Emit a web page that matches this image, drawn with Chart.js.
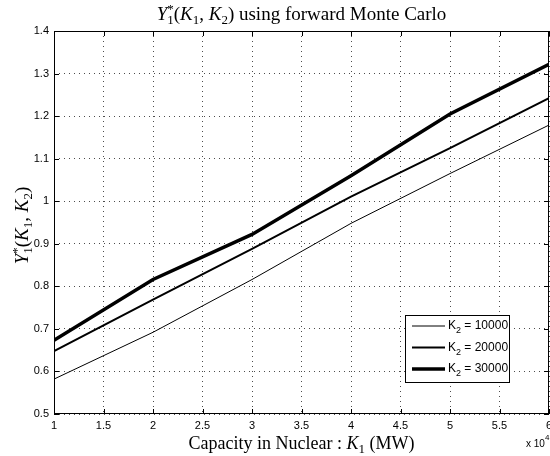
<!DOCTYPE html>
<html>
<head>
<meta charset="utf-8">
<script src="https://cdn.jsdelivr.net/npm/chart.js@4.4.1/dist/chart.umd.min.js"></script>
<style>
  html, body { margin: 0; padding: 0; background: #fff; overflow: hidden; }
  #wrap { width: 560px; height: 456px; }
</style>
</head>
<body>
<div id="wrap"><canvas id="grafico"></canvas></div>
<script>
// dados (K1 em unidades de 10^4 MW)
var k1 = [1, 2, 3, 4, 5, 6];
var y10000 = [0.582, 0.692, 0.816, 0.948, 1.065, 1.179];
var y20000 = [0.648, 0.769, 0.888, 1.011, 1.125, 1.242];
var y30000 = [0.673, 0.816, 0.922, 1.060, 1.205, 1.322];
var nomes = ["10000", "20000", "30000"];
var xTicks = [1, 1.5, 2, 2.5, 3, 3.5, 4, 4.5, 5, 5.5, 6];
var yTicks = [0.5, 0.6, 0.7, 0.8, 0.9, 1, 1.1, 1.2, 1.3, 1.4];

var sans = "'Liberation Sans', Arial, sans-serif";
var serif = "'Liberation Serif', 'DejaVu Serif', serif";

function pontos(ys) {
  return k1.map(function (x, i) { return { x: x, y: ys[i] }; });
}

// desenha texto com italico / subscrito / sobrescrito
function largura(ctx, segs, tam) {
  var w = 0;
  segs.forEach(function (s) {
    if (s.st) {
      ctx.font = Math.round(tam * 0.7) + "px " + serif;
      w += Math.max(ctx.measureText(s.sub).width, ctx.measureText(s.sup).width);
    } else {
      ctx.font = (s.it ? "italic " : "") + (s.sub ? Math.round(tam * 0.7) : tam) + "px " + serif;
      w += ctx.measureText(s.t).width;
    }
  });
  return w;
}
function escreve(ctx, segs, tam, cx, cy) {
  var x = cx - largura(ctx, segs, tam) / 2;
  ctx.textBaseline = "alphabetic";
  ctx.textAlign = "left";
  ctx.fillStyle = "#000";
  var base = cy + tam * 0.33;
  segs.forEach(function (s) {
    if (s.st) {
      ctx.font = Math.round(tam * 0.7) + "px " + serif;
      ctx.fillText(s.sub, x, base + tam * 0.2);
      ctx.fillText(s.sup, x, base - tam * 0.38);
      x += Math.max(ctx.measureText(s.sub).width, ctx.measureText(s.sup).width);
    } else {
      ctx.font = (s.it ? "italic " : "") + (s.sub ? Math.round(tam * 0.7) : tam) + "px " + serif;
      ctx.fillText(s.t, x, s.sub ? base + tam * 0.2 : base);
      x += ctx.measureText(s.t).width;
    }
  });
}

var yk = [
  { t: "Y", it: true }, { st: true, sub: "1", sup: "*" }, { t: "(" },
  { t: "K", it: true }, { t: "1", sub: true }, { t: ", " },
  { t: "K", it: true }, { t: "2", sub: true }, { t: ")" }
];
var titulo = yk.concat([{ t: " using forward Monte Carlo" }]);
var xlabel = [{ t: "Capacity in Nuclear : " }, { t: "K", it: true }, { t: "1", sub: true }, { t: " (MW)" }];

var moldura = {
  id: "moldura",
  afterDraw: function (chart) {
    var ctx = chart.ctx, a = chart.chartArea;
    var sx = chart.scales.x, sy = chart.scales.y;
    ctx.save();
    // caixa e ticks para dentro
    ctx.strokeStyle = "#000";
    ctx.lineWidth = 1;
    ctx.strokeRect(a.left + 0.5, a.top + 0.5, a.right - a.left - 1, a.bottom - a.top - 1);
    ctx.beginPath();
    xTicks.forEach(function (v) {
      var px = Math.round(sx.getPixelForValue(v)) + 0.5;
      ctx.moveTo(px, a.bottom); ctx.lineTo(px, a.bottom - 5);
      ctx.moveTo(px, a.top); ctx.lineTo(px, a.top + 5);
    });
    yTicks.forEach(function (v) {
      var py = Math.round(sy.getPixelForValue(v)) + 0.5;
      ctx.moveTo(a.left, py); ctx.lineTo(a.left + 5, py);
      ctx.moveTo(a.right, py); ctx.lineTo(a.right - 5, py);
    });
    ctx.stroke();

    // titulos
    escreve(ctx, titulo, 19, (a.left + a.right) / 2, 14);
    escreve(ctx, xlabel, 18, (a.left + a.right) / 2, 443);
    ctx.save();
    ctx.translate(22, (a.top + a.bottom) / 2 + 3);
    ctx.rotate(-Math.PI / 2);
    escreve(ctx, yk, 19, 0, 0);
    ctx.restore();

    // x 10^4
    ctx.fillStyle = "#000";
    ctx.textBaseline = "middle";
    ctx.textAlign = "left";
    ctx.font = "10px " + sans;
    ctx.fillText("x 10", 526, 444);
    var wx = ctx.measureText("x 10").width;
    ctx.font = "8px " + sans;
    ctx.fillText("4", 526 + wx, 438);

    // legenda
    var bx = a.right - 144, by = a.bottom - 99, bw = 104, bh = 67;
    ctx.fillStyle = "#fff";
    ctx.fillRect(bx, by, bw, bh);
    ctx.strokeRect(bx + 0.5, by + 0.5, bw, bh);
    chart.data.datasets.forEach(function (d, i) {
      var ly = by + 11 + i * 21.5;
      ctx.beginPath();
      ctx.lineWidth = d.borderWidth;
      ctx.moveTo(bx + 7, ly); ctx.lineTo(bx + 40, ly);
      ctx.stroke();
      ctx.fillStyle = "#000";
      ctx.textBaseline = "middle";
      ctx.font = "12px " + sans;
      ctx.fillText("K", bx + 43, ly);
      var wk = ctx.measureText("K").width;
      ctx.font = "9px " + sans;
      ctx.fillText("2", bx + 43 + wk, ly + 5);
      var w2 = ctx.measureText("2").width;
      ctx.font = "12px " + sans;
      ctx.fillText(" = " + nomes[i], bx + 43 + wk + w2, ly);
    });
    ctx.restore();
  }
};

var ctx = document.getElementById("grafico");
var grafico = new Chart(ctx, {
  type: "line",
  data: {
    datasets: [
      { label: "K2 = " + nomes[0], data: pontos(y10000), borderWidth: 1 },
      { label: "K2 = " + nomes[1], data: pontos(y20000), borderWidth: 2 },
      { label: "K2 = " + nomes[2], data: pontos(y30000), borderWidth: 3.5 }
    ].map(function (d) {
      d.borderColor = "#000";
      d.backgroundColor = "#000";
      d.pointRadius = 0;
      d.tension = 0;
      d.fill = false;
      return d;
    })
  },
  options: {
    responsive: true,
    maintainAspectRatio: false,
    animation: false,
    layout: { padding: { left: 0, right: 11, top: 31, bottom: 0 } },
    plugins: { legend: { display: false }, title: { display: false }, tooltip: { enabled: false } },
    scales: {
      x: {
        type: "linear", min: 1, max: 6,
        afterBuildTicks: function (s) { s.ticks = xTicks.map(function (v) { return { value: v }; }); },
        afterFit: function (s) { s.height = 42; },
        grid: { color: "rgba(0,0,0,0.7)", lineWidth: 1, drawTicks: false },
        border: { display: false, dash: [1, 4] },
        ticks: { color: "#000", font: { family: sans, size: 11 }, padding: 5, maxRotation: 0,
          callback: function (v) { return String(v); } }
      },
      y: {
        type: "linear", min: 0.5, max: 1.4,
        afterBuildTicks: function (s) { s.ticks = yTicks.map(function (v) { return { value: v }; }); },
        afterFit: function (s) { s.width = 54; },
        grid: { color: "rgba(0,0,0,0.7)", lineWidth: 1, drawTicks: false },
        border: { display: false, dash: [1, 4] },
        ticks: { color: "#000", font: { family: sans, size: 11 }, padding: 5,
          callback: function (v) { return String(v); } }
      }
    }
  },
  plugins: [moldura]
});
</script>
</body>
</html>
